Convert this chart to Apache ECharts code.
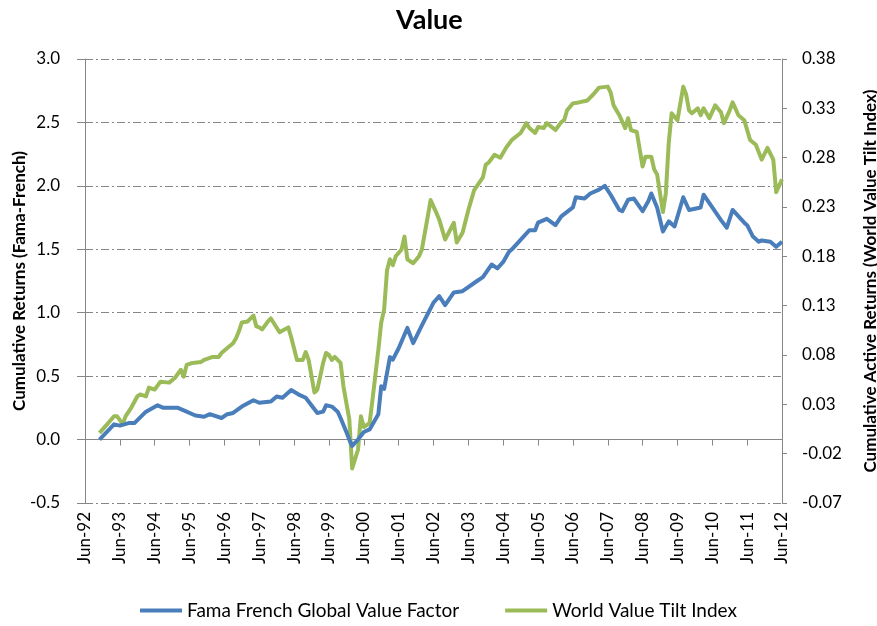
<!DOCTYPE html>
<html>
<head>
<meta charset="utf-8">
<script src="https://cdn.jsdelivr.net/npm/echarts@6/dist/echarts.min.js"></script>
<style>
  html, body { margin: 0; padding: 0; background: #fff; }
  #chart { width: 877px; height: 626px; }
</style>
</head>
<body>
<div id="chart"></div>
<script>
// Fama French Global Value Factor (left axis, cumulative return)
const blueMonths = ['Nov-92','Apr-93','Jun-93','Sep-93','Nov-93','Mar-94','Jul-94','Sep-94','Feb-95','Apr-95',
  'Aug-95','Nov-95','Jan-96','May-96','Jul-96','Sep-96','Dec-96','Apr-97','Jun-97','Oct-97',
  'Dec-97','Feb-98','May-98','Aug-98','Oct-98','Feb-99','Apr-99','May-99','Jul-99','Sep-99',
  'Oct-99','Dec-99','Jan-00','Feb-00','Apr-00','Jun-00','Aug-00','Nov-00','Dec-00','Jan-01',
  'Mar-01','Apr-01','Jun-01','Sep-01','Nov-01','Feb-02','Apr-02','Jun-02','Aug-02','Oct-02',
  'Jan-03','Apr-03','Sep-03','Nov-03','Feb-04','Apr-04','Jun-04','Aug-04','Sep-04','Jan-05',
  'Mar-05','May-05','Jun-05','Sep-05','Dec-05','Feb-06','Jun-06','Jul-06','Oct-06','Dec-06',
  'Mar-07','May-07','Jul-07','Oct-07','Nov-07','Jan-08','Mar-08','Jun-08','Aug-08','Sep-08',
  'Nov-08','Jan-09','Mar-09','May-09','Aug-09','Oct-09','Feb-10','Mar-10','Jun-10','Sep-10',
  'Nov-10','Jan-11','May-11','Jun-11','Aug-11','Oct-11','Nov-11','Feb-12','Apr-12','Jun-12'];
const blueValues = [0.00,0.12,0.11,0.13,0.13,0.22,0.27,0.25,0.25,0.23,
  0.19,0.18,0.20,0.17,0.20,0.21,0.26,0.31,0.29,0.30,
  0.34,0.33,0.39,0.35,0.33,0.21,0.22,0.27,0.26,0.22,
  0.17,0.06,0.00,-0.05,0.00,0.06,0.08,0.20,0.42,0.40,
  0.65,0.63,0.72,0.88,0.76,0.90,0.99,1.08,1.13,1.06,
  1.16,1.17,1.25,1.28,1.38,1.35,1.40,1.48,1.50,1.60,
  1.65,1.65,1.71,1.74,1.69,1.76,1.83,1.91,1.90,1.94,
  1.97,2.00,1.93,1.81,1.80,1.89,1.90,1.80,1.88,1.94,
  1.83,1.64,1.72,1.68,1.91,1.81,1.83,1.93,1.83,1.73,
  1.67,1.81,1.71,1.69,1.60,1.56,1.57,1.56,1.52,1.56];

// World Value Tilt Index (right axis, cumulative active return)
const greenMonths = ['Nov-92','Feb-93','Apr-93','May-93','Jul-93','Aug-93','Oct-93','Dec-93','Jan-94','Mar-94',
  'Apr-94','Jun-94','Aug-94','Nov-94','Jan-95','Mar-95','Apr-95','May-95','Jul-95','Oct-95',
  'Nov-95','Feb-96','Apr-96','May-96','Jul-96','Sep-96','Oct-96','Nov-96','Dec-96','Feb-97',
  'Apr-97','May-97','Jun-97','Jul-97','Sep-97','Oct-97','Jan-98','Apr-98','May-98','Jul-98',
  'Sep-98','Oct-98','Nov-98','Jan-99','Feb-99','Apr-99','May-99','Jun-99','Jul-99','Aug-99',
  'Oct-99','Nov-99','Jan-00','Feb-00','Apr-00','May-00','Jun-00','Aug-00','Sep-00','Nov-00',
  'Dec-00','Jan-01','Feb-01','Mar-01','Apr-01','May-01','Jul-01','Aug-01','Sep-01','Nov-01',
  'Jan-02','Feb-02','Apr-02','May-02','Jul-02','Aug-02','Oct-02','Jan-03','Feb-03','Apr-03',
  'Jun-03','Jul-03','Aug-03','Nov-03','Dec-03','Jan-04','Mar-04','May-04','Jul-04','Sep-04',
  'Dec-04','Feb-05','Mar-05','May-05','Jun-05','Aug-05','Sep-05','Dec-05','Feb-06','Mar-06',
  'Apr-06','Jun-06','Aug-06','Nov-06','Jan-07','Mar-07','Jun-07','Jul-07','Aug-07','Oct-07',
  'Dec-07','Jan-08','Feb-08','Apr-08','Jun-08','Jul-08','Sep-08','Oct-08','Nov-08','Jan-09',
  'Feb-09','Mar-09','Apr-09','Jun-09','Aug-09','Sep-09','Oct-09','Nov-09','Jan-10','Feb-10',
  'Mar-10','May-10','Jul-10','Sep-10','Oct-10','Dec-10','Jan-11','Mar-11','May-11','Jul-11',
  'Sep-11','Nov-11','Jan-12','Mar-12','Apr-12','Jun-12'];
const greenValues = [0.001,0.011,0.018,0.018,0.010,0.018,0.027,0.038,0.040,0.038,
  0.047,0.045,0.053,0.052,0.057,0.065,0.058,0.070,0.072,0.073,
  0.075,0.078,0.078,0.082,0.087,0.092,0.097,0.104,0.113,0.114,
  0.120,0.109,0.108,0.106,0.114,0.117,0.103,0.108,0.098,0.075,
  0.075,0.083,0.075,0.042,0.045,0.072,0.082,0.080,0.075,0.078,
  0.072,0.048,0.015,-0.035,-0.016,0.018,0.007,0.011,0.035,0.085,
  0.113,0.126,0.166,0.177,0.171,0.180,0.187,0.200,0.177,0.173,
  0.180,0.187,0.220,0.237,0.224,0.217,0.197,0.214,0.194,0.204,
  0.227,0.237,0.247,0.260,0.273,0.275,0.283,0.280,0.290,0.298,
  0.305,0.315,0.310,0.305,0.311,0.310,0.315,0.308,0.316,0.318,
  0.328,0.335,0.336,0.338,0.344,0.351,0.352,0.346,0.333,0.323,
  0.310,0.320,0.308,0.306,0.271,0.281,0.281,0.268,0.263,0.225,
  0.244,0.295,0.325,0.318,0.352,0.344,0.328,0.325,0.330,0.323,
  0.330,0.320,0.333,0.326,0.315,0.328,0.336,0.323,0.318,0.298,
  0.293,0.278,0.290,0.278,0.245,0.258];

// Axis ticks
const leftTicks = [-0.5, 0.0, 0.5, 1.0, 1.5, 2.0, 2.5, 3.0];
const rightTicks = [-0.07, -0.02, 0.03, 0.08, 0.13, 0.18, 0.23, 0.28, 0.33, 0.38];

// Monthly category axis, Jun-92 .. Jun-12
const monthNames = ['Jan','Feb','Mar','Apr','May','Jun','Jul','Aug','Sep','Oct','Nov','Dec'];
const months = [];
for (let t = 1992 * 12 + 5; t <= 2012 * 12 + 5; t++) {
  const y = Math.floor(t / 12);
  months.push(monthNames[t % 12] + '-' + String(y % 100).padStart(2, '0'));
}

const FONT = 'Lato';
const AXIS_GRAY = '#868686';
const BLUE = '#4A7EBB';
const GREEN = '#9BBB59';

const chart = echarts.init(document.getElementById('chart'), null, { renderer: 'canvas' });
chart.setOption({
  animation: false,
  textStyle: { fontFamily: FONT },
  title: {
    text: 'Value',
    left: 391,
    top: 2,
    textStyle: { fontFamily: FONT, fontSize: 27, fontWeight: 'bold', color: '#000' }
  },
  grid: { left: 85, right: 95, top: 59, bottom: 123, outerBoundsMode: 'none', containLabel: false },
  legend: {
    bottom: 1,
    left: 'center',
    itemWidth: 42,
    itemHeight: 4,
    itemGap: 46,
    icon: 'rect',
    textStyle: { fontFamily: FONT, fontSize: 19, color: '#000' },
    data: ['Fama French Global Value Factor', 'World Value Tilt Index']
  },
  xAxis: [
    {
      // tick labels along the bottom of the plot
      type: 'category',
      data: months,
      boundaryGap: false,
      position: 'bottom',
      axisLine: { show: false, onZero: false },
      axisTick: { show: false },
      splitLine: { show: false },
      axisLabel: {
        interval: 11,
        rotate: 90,
        margin: 9,
        fontFamily: FONT,
        fontSize: 17,
        color: '#000'
      }
    },
    {
      // axis line with tick marks crossing at zero
      type: 'category',
      data: months,
      boundaryGap: false,
      position: 'bottom',
      axisLine: { show: true, onZero: true, onZeroAxisIndex: 0, lineStyle: { color: AXIS_GRAY, width: 1 } },
      axisTick: { show: true, interval: 11, length: 6, lineStyle: { color: AXIS_GRAY } },
      axisLabel: { show: false },
      splitLine: { show: false }
    }
  ],
  yAxis: [
    {
      type: 'value',
      min: -0.5,
      max: 3.0,
      interval: 0.5,
      name: 'Cumulative Returns (Fama-French)',
      nameLocation: 'middle',
      nameRotate: 90,
      nameGap: 57,
      nameMoveOverlap: false,
      nameTextStyle: { fontFamily: FONT, fontSize: 17, fontWeight: 'bold', color: '#000' },
      axisLine: { show: true, lineStyle: { color: AXIS_GRAY } },
      axisTick: { show: true, length: 8, lineStyle: { color: AXIS_GRAY } },
      axisLabel: {
        margin: 25,
        fontFamily: FONT,
        fontSize: 17,
        color: '#000',
        formatter: v => v.toFixed(1)
      },
      splitLine: {
        show: true,
        lineStyle: { color: AXIS_GRAY, width: 1, type: [8, 3, 2, 3] }
      }
    },
    {
      type: 'value',
      min: -0.07,
      max: 0.38,
      position: 'right',
      name: 'Cumulative Active Returns (World Value Tilt Index)',
      nameLocation: 'middle',
      nameRotate: 90,
      nameGap: 80,
      nameTextStyle: { fontFamily: FONT, fontSize: 17, fontWeight: 'bold', color: '#000' },
      axisLine: { show: true, lineStyle: { color: AXIS_GRAY } },
      axisTick: { show: true, length: 5, customValues: rightTicks, lineStyle: { color: AXIS_GRAY } },
      axisLabel: {
        margin: 20,
        fontFamily: FONT,
        fontSize: 17,
        color: '#000',
        customValues: rightTicks,
        formatter: v => v.toFixed(2)
      },
      splitLine: { show: false }
    }
  ],
  series: [
    {
      name: 'Fama French Global Value Factor',
      type: 'line',
      xAxisIndex: 0,
      yAxisIndex: 0,
      symbol: 'none',
      lineStyle: { color: BLUE, width: 4, join: 'round' },
      itemStyle: { color: BLUE },
      data: blueMonths.map((m, i) => [m, blueValues[i]]),
      z: 3
    },
    {
      name: 'World Value Tilt Index',
      type: 'line',
      xAxisIndex: 0,
      yAxisIndex: 1,
      symbol: 'none',
      lineStyle: { color: GREEN, width: 4, join: 'round' },
      itemStyle: { color: GREEN },
      data: greenMonths.map((m, i) => [m, greenValues[i]]),
      z: 2
    }
  ]
});
</script>
</body>
</html>
